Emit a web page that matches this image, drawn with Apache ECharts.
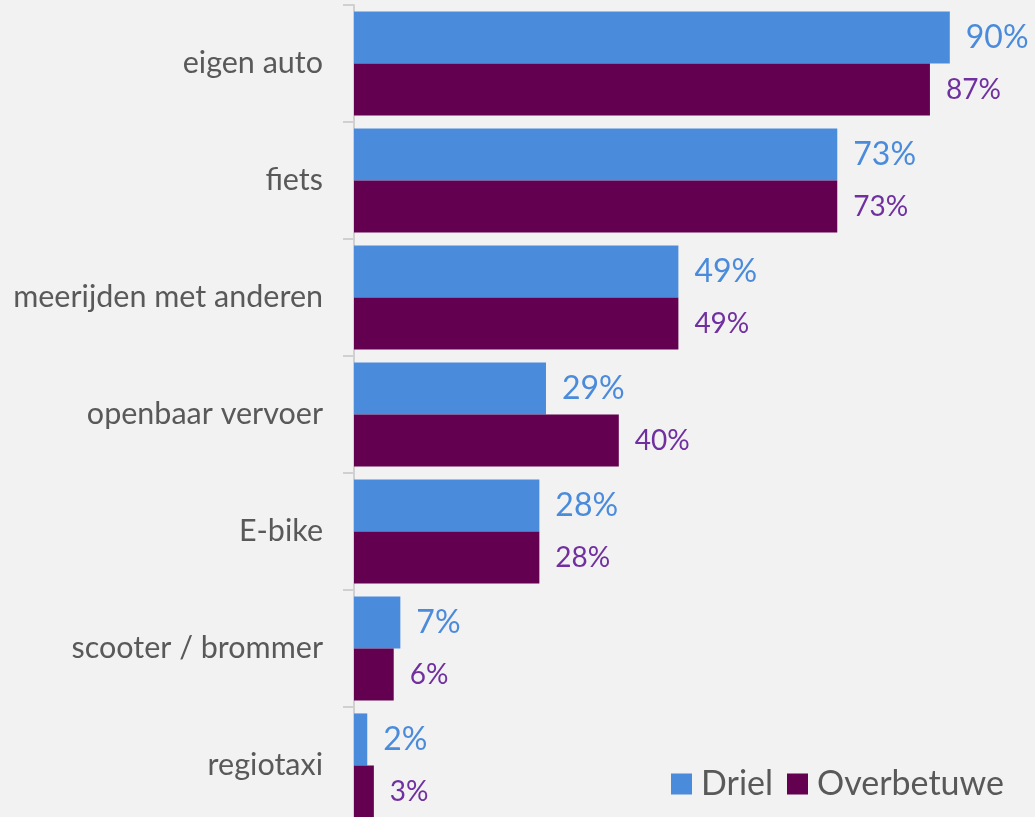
<!DOCTYPE html>
<html><head><meta charset="utf-8">
<script src="https://cdn.jsdelivr.net/npm/echarts@6/dist/echarts.min.js"></script>
<style>html,body{margin:0;padding:0;background:#f2f2f2;}#c{width:1035px;height:817px;}</style>
</head><body><div id="c"></div>
<script>
const categories = ['eigen auto','fiets','meerijden met anderen','openbaar vervoer','E-bike','scooter / brommer','regiotaxi'];
const driel = [90, 73, 49, 29, 28, 7, 2];
const overbetuwe = [87, 73, 49, 40, 28, 6, 3];
const FONT = 'Lato';
const chart = echarts.init(document.getElementById('c'));
chart.setOption({
  backgroundColor: '#f2f2f2',
  animation: false,
  textStyle: {fontFamily: FONT},
  grid: {left: 354, right: 19, top: 5, height: 819, outerBoundsMode: 'none', containLabel: false},
  legend: {
    right: 26, top: 762, icon: 'rect', itemWidth: 21, itemHeight: 21, itemGap: 14,
    textStyle: {fontSize: 34, color: '#595959', fontFamily: FONT, padding: [0, 0, 0, 4]},
    data: ['Driel','Overbetuwe']
  },
  xAxis: {type: 'value', min: 0, max: 100, show: false},
  yAxis: {
    type: 'category', inverse: true, data: categories,
    axisLine: {show: true, lineStyle: {color: '#d0d0d0', width: 2}},
    axisTick: {show: true, length: 11, lineStyle: {color: '#d0d0d0', width: 2}},
    axisLabel: {fontSize: 30.5, color: '#595959', margin: 31, fontFamily: FONT}
  },
  series: [
    {name: 'Driel', type: 'bar', data: driel, barGap: '0%', barCategoryGap: '11%',
     itemStyle: {color: '#4a8bdb'},
     label: {show: true, position: 'right', distance: 16, formatter: '{c}%', fontSize: 32, color: '#4a8bdb', fontFamily: FONT}},
    {name: 'Overbetuwe', type: 'bar', data: overbetuwe, barGap: '0%', barCategoryGap: '11%',
     itemStyle: {color: '#63004f'},
     label: {show: true, position: 'right', distance: 16, formatter: '{c}%', fontSize: 28, color: '#7030a0', fontFamily: FONT}}
  ]
});
</script></body></html>
